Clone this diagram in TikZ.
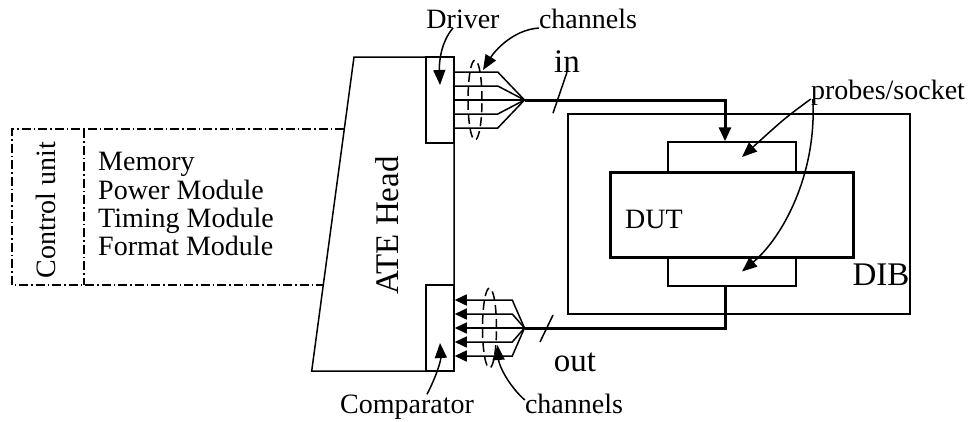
\documentclass[tikz,border=0pt]{standalone}
\usepackage{fontspec}
\setmainfont{Liberation Serif}
\usetikzlibrary{arrows.meta,positioning,calc,shapes.geometric}
\tikzset{
  box/.style={rectangle,draw,line width=1.5pt,inner sep=0pt},
  dutbox/.style={rectangle,draw,line width=3pt,inner sep=0pt},
  ctrl/.style={line width=1.1pt,dash pattern=on 9pt off 3pt on 1.5pt off 3pt},
  wire/.style={line width=1.5pt},
  bus/.style={line width=3pt},
  ring/.style={ellipse,draw,line width=1.5pt,dash pattern=on 9pt off 5pt,inner sep=0pt,minimum width=14pt,minimum height=80pt},
  callout/.style={line width=1.5pt,-{Triangle[length=15pt,width=12pt]}},
  lab/.style={font=\fontsize{28}{28}\selectfont,inner sep=0pt},
  biglab/.style={font=\fontsize{33}{33}\selectfont,inner sep=0pt}
}
\begin{document}
\begin{tikzpicture}[x=1pt,y=-1pt]
  \useasboundingbox (0,0) rectangle (971,421);
  % control unit and tester head
  \draw[ctrl] (344,129) -- (12,129) -- (12,285) -- (323,285);
  \draw[ctrl] (84,129) -- (84,285);
  \node[lab,rotate=90,anchor=base] (ctrlab) at (55,210) {Control unit};
  \node[lab,anchor=base west] (mem) at (98,170.7) {Memory};
  \node[lab,anchor=base west] (pwr) at (98,199) {Power Module};
  \node[lab,anchor=base west] (tim) at (98,227) {Timing Module};
  \node[lab,anchor=base west] (fmt) at (98,255) {Format Module};
  \draw[wire] (354,57) -- (454,57) -- (454,371) -- (311.7,371) -- cycle;
  \node[biglab,rotate=90,anchor=base] (ate) at (398,225.5) {ATE Head};
  \node[box,minimum width=28pt,minimum height=86pt] (drv) at (440,100) {};
  \node[box,minimum width=28pt,minimum height=86pt] (cmp) at (440,328) {};
  % board and device
  \node[box,minimum width=342pt,minimum height=200pt] (dib) at (739,214) {};
  \node[box,minimum width=128pt,minimum height=30pt] (sockin) at (732,157) {};
  \node[box,minimum width=128pt,minimum height=29pt] (sockout) at (732,271.5) {};
  \node[dutbox,minimum width=243pt,minimum height=85pt] (dut) at (731.5,214.5) {};
  \node[lab,anchor=base] (dutlab) at (654,228) {DUT};
  \node[biglab,anchor=base] (diblab) at (881,285) {DIB};
  % channel bundles
  \coordinate (drvtip) at (524.5,100);
  \coordinate (cmptip) at (524.5,328);
  \foreach \dy in {-28,-14,0,14,28}
    \draw[wire] ($(drv.east)+(0,\dy)$) -- ++(43,0) -- (drvtip);
  \foreach \dy in {-28,-14,0,14,28}
    \draw[wire,{Triangle[length=12pt,width=11pt]}-] ($(cmp.east)+(0,\dy)$) -- ++(57.5,0) -- (cmptip);
  \node[ring] (drvring) at (475,100) {};
  \node[ring] (cmpring) at (489.5,328) {};
  \draw[bus,-{Triangle[length=14pt,width=12pt]}] (drvtip) -| ([xshift=-7pt]sockin.north);
  \draw[bus] ([xshift=-7pt]sockout.south) |- (cmptip);
  \node[biglab,anchor=base] (inlab) at (567,72) {in};
  \node[biglab,anchor=base] (outlab) at (575,371) {out};
  \draw[wire] (inlab.south) -- ++(-14,41);
  \draw[wire] (553,315) -- (540,342);
  % callouts
  \node[lab,anchor=base] (drvlab) at (463,28) {Driver};
  \node[lab,anchor=base] (chtop) at (588,28) {channels};
  \node[lab,anchor=base] (prb) at (888,99) {probes/socket};
  \node[lab,anchor=base] (cmplab) at (407,413) {Comparator};
  \node[lab,anchor=base] (chbot) at (574,413) {channels};
  \draw[callout] ([xshift=-10pt]drvlab.base) .. controls (441,42) and (439,62) .. ([yshift=15pt]drv.center);
  \draw[callout] (chtop.base west) .. controls (512,30) and (494,52) .. ($(drvring)+(8,-30)$);
  \draw[callout] (prb.base west) .. controls (785,118) .. ([xshift=10pt]sockin.center);
  \draw[callout] ([xshift=2pt]prb.base west) .. controls (817,175) and (782,238) .. ([xshift=10pt]sockout.center);
  \draw[callout] ([xshift=20pt]cmplab.north) .. controls (437,375) and (441,360) .. ([yshift=-15pt]cmp.center);
  \draw[callout] ([yshift=13pt]chbot.base west) .. controls (509,386) and (499,366) .. ($(cmpring)+(8,17)$);
\end{tikzpicture}
\end{document}
